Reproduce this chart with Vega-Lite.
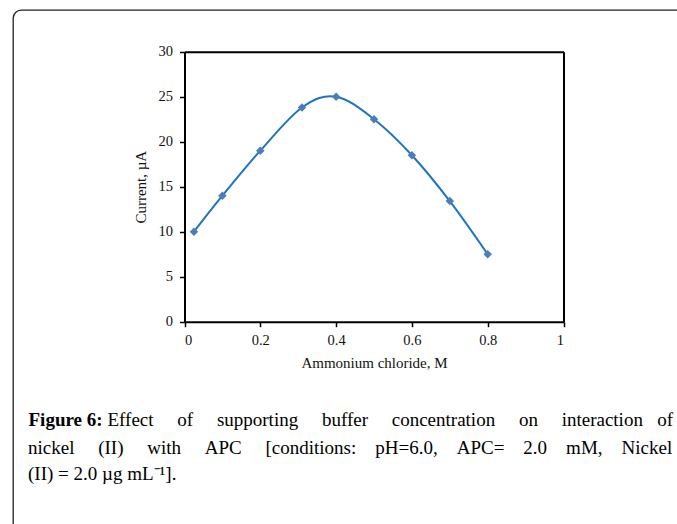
{
  "$schema": "https://vega.github.io/schema/vega-lite/v6.json",
  "width": 690,
  "height": 550,
  "autosize": "none",
  "padding": {"left": 13, "top": 10, "right": -26, "bottom": -36},
  "background": "white",
  "data": {
    "values": [
      {"conc": 0.025, "current": 10},
      {"conc": 0.1, "current": 14},
      {"conc": 0.2, "current": 19},
      {"conc": 0.31, "current": 23.8},
      {"conc": 0.4, "current": 25},
      {"conc": 0.5, "current": 22.5},
      {"conc": 0.6, "current": 18.5},
      {"conc": 0.7, "current": 13.4},
      {"conc": 0.8, "current": 7.5}
    ]
  },
  "title": {
    "text": [
      "nickel\u00a0\u00a0\u00a0\u00a0\u00a0(II)\u00a0\u00a0\u00a0\u00a0\u00a0with\u00a0\u00a0\u00a0\u00a0\u00a0APC\u00a0\u00a0\u00a0\u00a0\u00a0[conditions:\u00a0\u00a0\u00a0\u00a0pH=6.0,\u00a0\u00a0\u00a0\u00a0APC=\u00a0\u00a0\u00a0\u00a02.0\u00a0\u00a0\u00a0\u00a0mM,\u00a0\u00a0\u00a0\u00a0Nickel",
      "(II) = 2.0 µg mL⁻¹]."
    ],
    "orient": "bottom",
    "anchor": "start",
    "frame": "group",
    "offset": -121,
    "dx": 15,
    "font": "Liberation Serif",
    "fontSize": 19,
    "fontWeight": "normal",
    "color": "#000000",
    "lineHeight": 26
  },
  "layer": [
    {
      "mark": {"type": "line", "interpolate": "cardinal", "color": "#1f74c2", "strokeWidth": 2},
      "encoding": {
        "x": {
          "field": "conc", "type": "quantitative",
          "scale": {"domain": [0, 1], "range": [171.5, 550.5], "nice": false, "zero": false},
          "axis": {
            "orient": "bottom", "offset": -238.3, "values": [0, 0.2, 0.4, 0.6, 0.8, 1], "format": ".1~f",
            "title": "Ammonium chloride, M", "titlePadding": 8, "labelPadding": 7
          }
        },
        "y": {
          "field": "current", "type": "quantitative",
          "scale": {"domain": [0, 30], "range": [311.7, 41.7], "nice": false, "zero": false},
          "axis": {
            "orient": "left", "offset": -171.5, "values": [0, 5, 10, 15, 20, 25, 30], "format": "d",
            "title": "Current, µA", "titlePadding": 10, "labelPadding": 7
          }
        }
      }
    },
    {
      "mark": {"type": "point", "shape": "diamond", "filled": true, "size": 72, "color": "#4a7ebb", "opacity": 1},
      "encoding": {
        "x": {
          "field": "conc", "type": "quantitative",
          "axis": {
            "orient": "top", "offset": -41.7, "labels": false, "ticks": false,
            "title": "Figure 6:", "titleX": 15, "titleY": 374, "titleAngle": 0,
            "titleAlign": "left", "titleBaseline": "alphabetic",
            "titleFontWeight": "bold", "titleFontSize": 19, "titleColor": "#000000"
          }
        },
        "y": {
          "field": "current", "type": "quantitative",
          "axis": {
            "orient": "right", "offset": -139.5, "labels": false, "ticks": false,
            "title": "Effect\u00a0\u00a0\u00a0\u00a0\u00a0of\u00a0\u00a0\u00a0\u00a0\u00a0supporting\u00a0\u00a0\u00a0\u00a0\u00a0buffer\u00a0\u00a0\u00a0\u00a0\u00a0concentration\u00a0\u00a0\u00a0\u00a0\u00a0on\u00a0\u00a0\u00a0\u00a0\u00a0interaction\u00a0\u00a0\u00a0of",
            "titleX": -456.5, "titleY": 415.7, "titleAngle": 0,
            "titleAlign": "left", "titleBaseline": "alphabetic",
            "titleFontWeight": "normal", "titleFontSize": 19, "titleColor": "#000000"
          }
        }
      }
    }
  ],
  "config": {
    "view": {"stroke": "#222222", "strokeWidth": 1.3, "cornerRadius": 8},
    "axis": {
      "grid": false,
      "domainColor": "#000000",
      "domainWidth": 2,
      "tickColor": "#000000",
      "tickWidth": 1.5,
      "tickSize": 5,
      "labelFont": "Liberation Serif",
      "labelFontSize": 14.5,
      "labelColor": "#111111",
      "titleFont": "Liberation Serif",
      "titleFontSize": 15,
      "titleFontWeight": "normal",
      "titleColor": "#111111"
    }
  }
}
